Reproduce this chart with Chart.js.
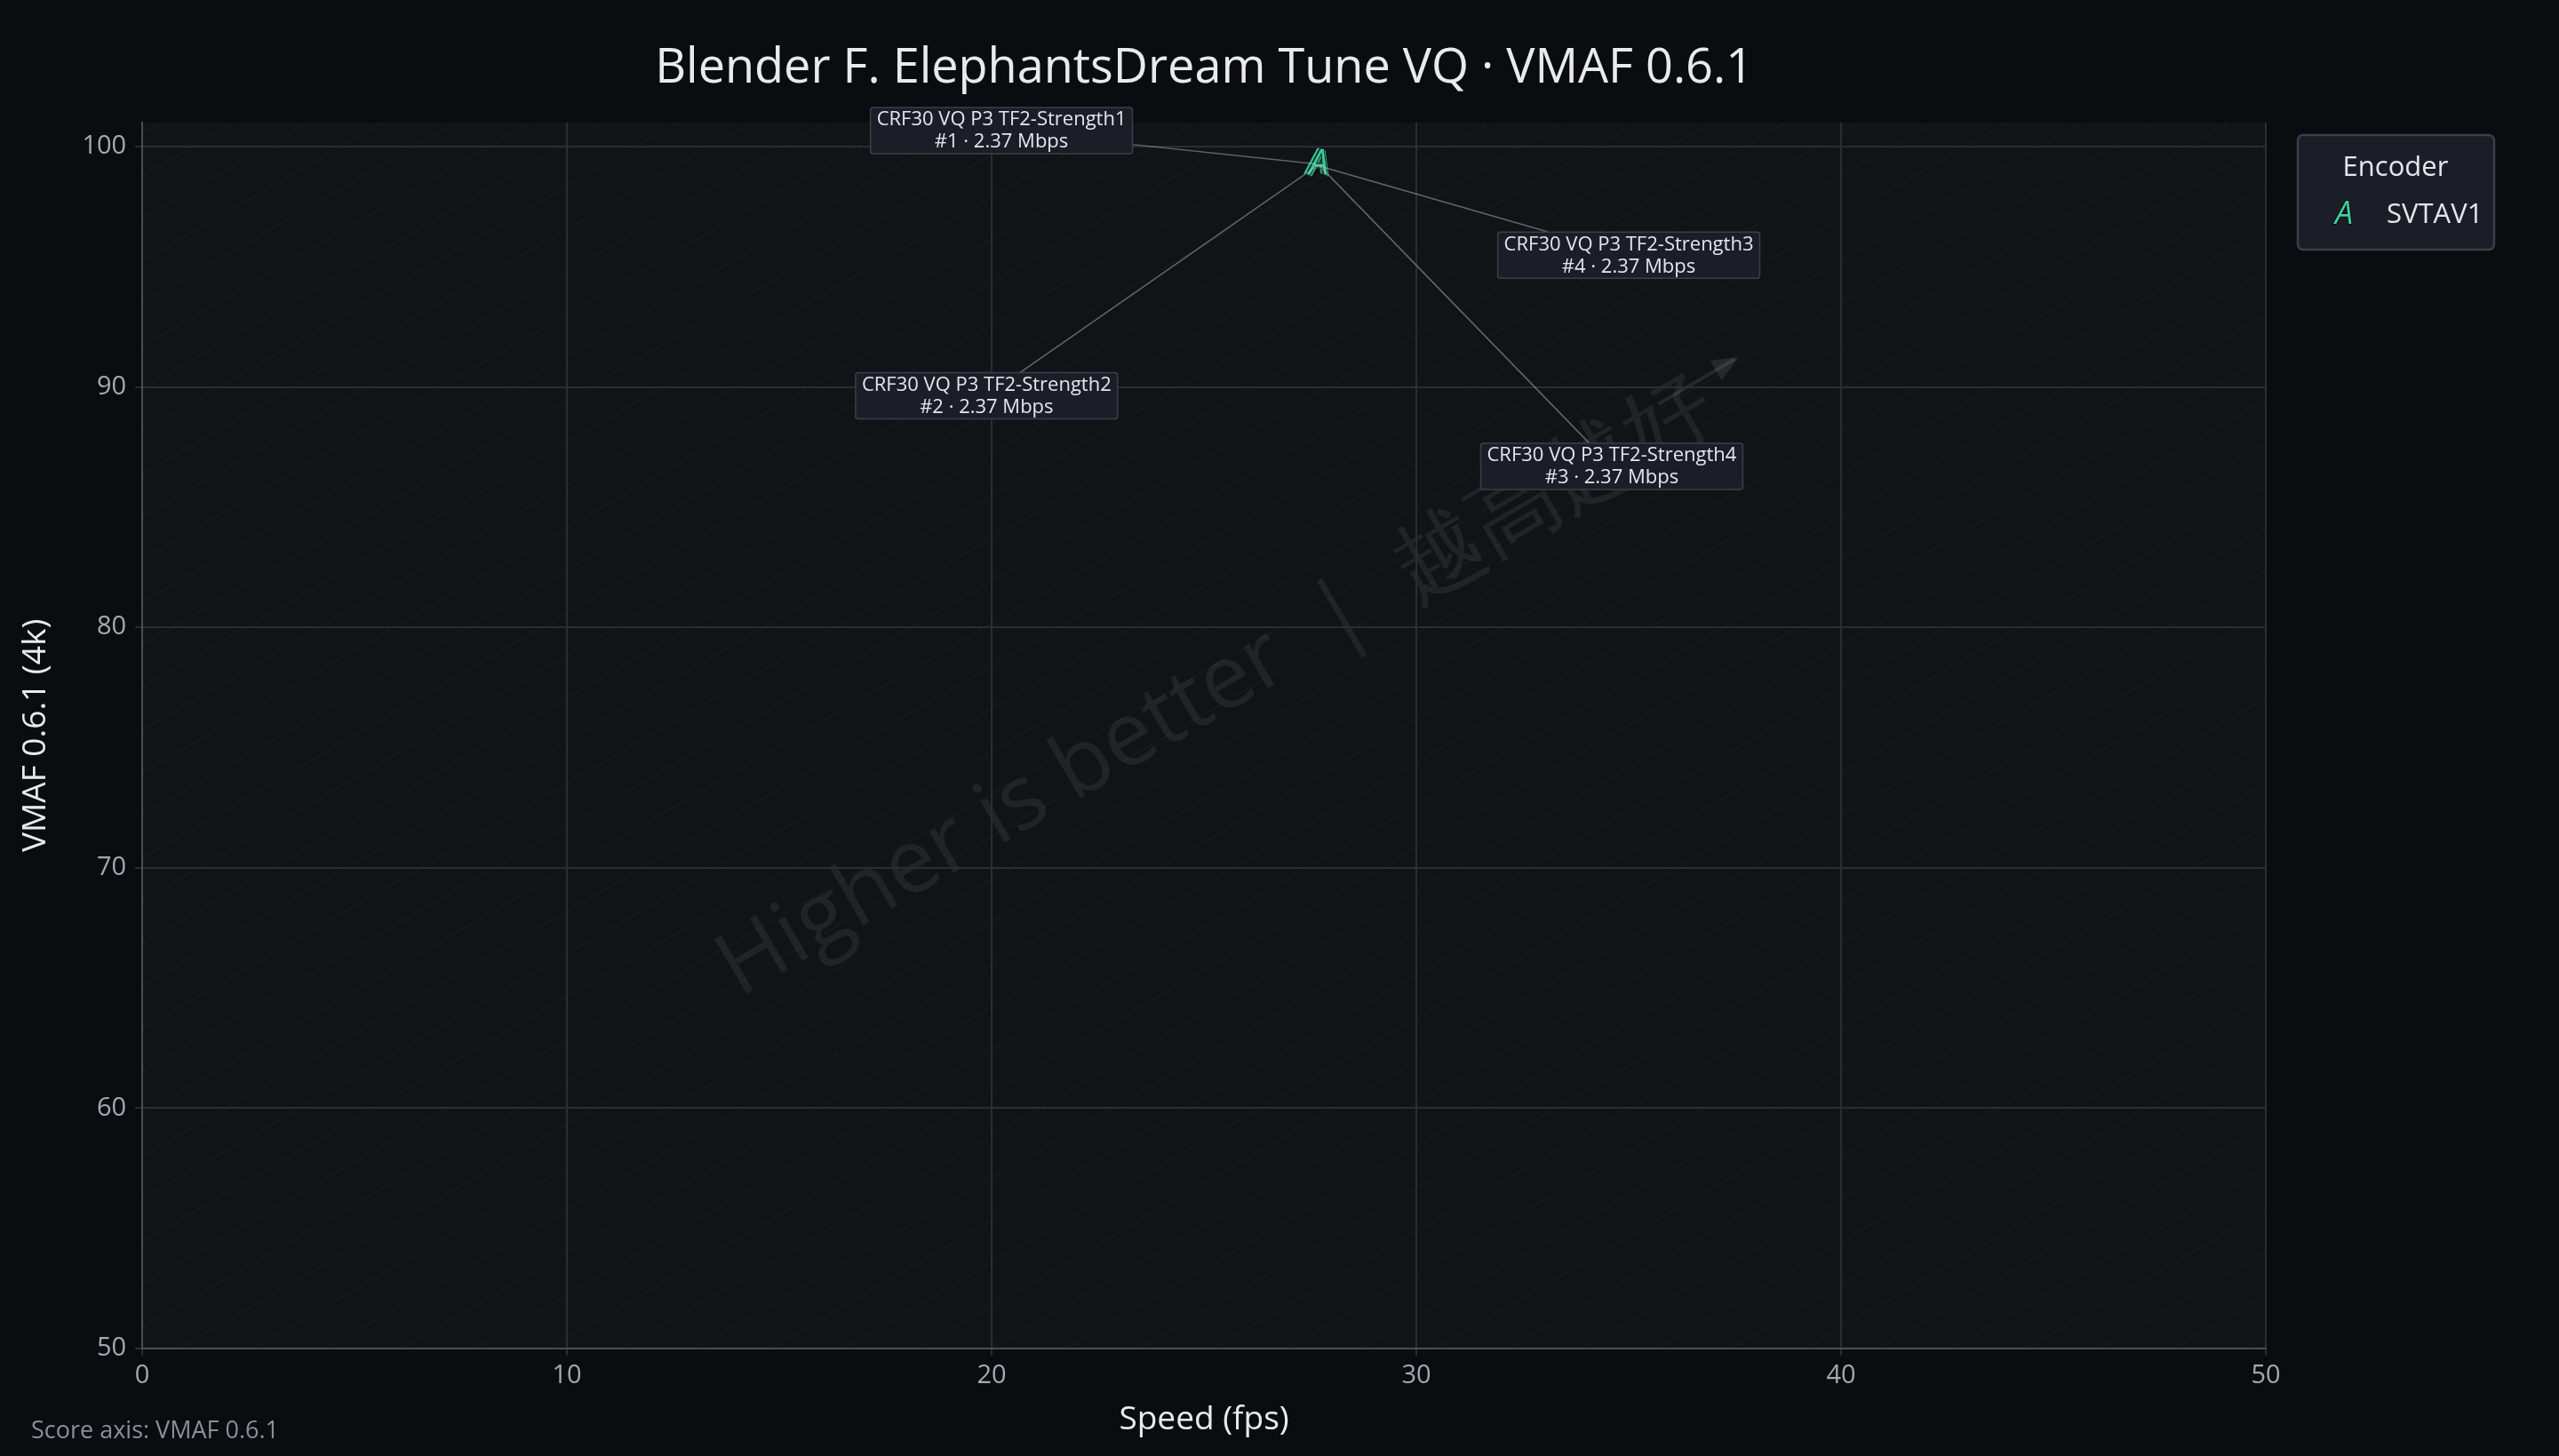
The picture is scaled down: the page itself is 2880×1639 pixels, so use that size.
<!DOCTYPE html>
<html><head><meta charset="utf-8">
<script src="https://cdn.jsdelivr.net/npm/chart.js@4"></script>
<style>html,body{margin:0;background:#0b0c10;}#w{width:2880px;height:1639px;}</style>
</head><body><div id="w"><canvas id="c"></canvas></div>
<script>
const FONT = "'Open Sans','Noto Sans',sans-serif";
const pointNames = ["CRF30 VQ P3 TF2-Strength1","CRF30 VQ P3 TF2-Strength2","CRF30 VQ P3 TF2-Strength3","CRF30 VQ P3 TF2-Strength4"];
const pointRanks = ["#1","#2","#4","#3"];
const bitrates = [2.37,2.37,2.37,2.37];
const speedFps = [27.62,27.68,27.74,27.70];
const vmafScores = [99.28,99.22,99.18,99.24];
const labelX = [20.23,19.88,35.0,34.6];
const labelY = [100.67,89.63,95.48,86.7];
const xTicks = [0,10,20,30,40,50];
const yTicks = [50,60,70,80,90,100];

function markerCanvas(size){
  const c=document.createElement('canvas');c.width=size;c.height=size;
  const g=c.getContext('2d');g.font="italic "+(size*0.9)+"px "+FONT;g.textAlign='center';g.textBaseline='middle';
  g.lineWidth=2;g.strokeStyle='#0b0c10';g.strokeText('A',size/2,size/2);
  g.fillStyle='#3ccf9a';g.fillText('A',size/2,size/2);return c;
}
const mk=markerCanvas(44), mkL=markerCanvas(40);

const deco={id:'deco',
 beforeDraw(ch){const {ctx,chartArea:a}=ch;ctx.save();
  ctx.fillStyle='#121317';ctx.fillRect(a.left,a.top,a.right-a.left,a.bottom-a.top);
  ctx.beginPath();ctx.rect(a.left,a.top,a.right-a.left,a.bottom-a.top);ctx.clip();
  ctx.strokeStyle='rgba(255,255,255,0.022)';ctx.lineWidth=2;
  const t=Math.tan(30*Math.PI/180);
  for(let s=-3000;s<3000;s+=48){ctx.beginPath();ctx.moveTo(a.left,a.bottom+s);ctx.lineTo(a.right,a.bottom+s-(a.right-a.left)*t);ctx.stroke();}
  ctx.translate(1370,775);ctx.rotate(-30.4*Math.PI/180);
  ctx.font="100px "+FONT;ctx.fillStyle='rgba(255,255,255,0.07)';ctx.textAlign='center';ctx.textBaseline='middle';
  ctx.fillText('Higher is better  |  越高越好',0,0);
  ctx.strokeStyle='rgba(255,255,255,0.09)';ctx.lineWidth=4;
  ctx.beginPath();ctx.moveTo(590,-25);ctx.lineTo(690,-25);ctx.stroke();
  ctx.beginPath();ctx.moveTo(665,-38);ctx.lineTo(695,-25);ctx.lineTo(665,-12);ctx.closePath();ctx.fillStyle='rgba(255,255,255,0.09)';ctx.fill();
  ctx.restore();},
 afterDatasetsDraw(ch){const {ctx}=ch;const xs=ch.scales.x,ys=ch.scales.y;ctx.save();
  ctx.font="22px "+FONT;ctx.textAlign='center';ctx.textBaseline='middle';
  for(let i=0;i<speedFps.length;i++){
   const px=xs.getPixelForValue(speedFps[i]),py=ys.getPixelForValue(vmafScores[i]);
   const lx=xs.getPixelForValue(labelX[i]),ly=ys.getPixelForValue(labelY[i]);
   const l1=pointNames[i],l2=pointRanks[i]+' · '+bitrates[i].toFixed(2)+' Mbps';
   const w=Math.max(ctx.measureText(l1).width,ctx.measureText(l2).width)+14,h=52;
   const dx=px-lx,dy=py-ly;const tt=Math.min((w/2)/Math.abs(dx||1e-9),(h/2)/Math.abs(dy||1e-9));
   const ex=lx+dx*tt,ey=ly+dy*tt;
   ctx.strokeStyle='rgba(200,200,210,0.45)';ctx.lineWidth=1.5;ctx.beginPath();ctx.moveTo(px,py);ctx.lineTo(ex,ey);ctx.stroke();
   ctx.fillStyle='#1b1e26';ctx.strokeStyle='#3a3f4b';ctx.lineWidth=1.5;
   ctx.beginPath();ctx.roundRect(lx-w/2,ly-h/2,w,h,3);ctx.fill();ctx.stroke();
   ctx.fillStyle='#e4e6ec';ctx.fillText(l1,lx,ly-12);ctx.fillText(l2,lx,ly+13);
  }
  ctx.restore();},
 afterDraw(ch){const {ctx}=ch;ctx.save();
  ctx.fillStyle='#1b1e26';ctx.strokeStyle='#3a3f4b';ctx.lineWidth=2.5;
  ctx.beginPath();ctx.roundRect(2586,152,221,129,6);ctx.fill();ctx.stroke();
  ctx.fillStyle='#e4e6ec';ctx.font="31px "+FONT;ctx.textAlign='center';ctx.textBaseline='middle';
  ctx.fillText('Encoder',2696,189);
  ctx.textAlign='left';ctx.fillText('SVTAV1',2686,242);
  ctx.drawImage(mkL,2618,222);
  ctx.fillStyle='#8a8f9a';ctx.font="27px "+FONT;ctx.textBaseline='alphabetic';ctx.fillText('Score axis: VMAF 0.6.1',35,1619);
  ctx.fillStyle='#e8eaf0';ctx.font="54px "+FONT;ctx.textAlign='center';ctx.textBaseline='middle';
  ctx.fillText('Blender F. ElephantsDream Tune VQ · VMAF 0.6.1',(ch.chartArea.left+ch.chartArea.right)/2,78);
  ctx.restore();}
};

new Chart(document.getElementById('c'),{type:'scatter',
 data:{datasets:[{label:'SVTAV1',data:speedFps.map((x,i)=>({x,y:vmafScores[i]})),pointStyle:mk,pointRadius:20}]},
 options:{responsive:true,maintainAspectRatio:false,animation:false,
  layout:{padding:{left:14,right:330,top:138,bottom:14}},
  plugins:{legend:{display:false},tooltip:{enabled:false},title:{display:false}},
  scales:{
   x:{type:'linear',min:0,max:50,afterBuildTicks:s=>{s.ticks=xTicks.map(v=>({value:v}));},
    grid:{color:'#2a2d35',lineWidth:2},border:{color:'#4a4e58',width:2},
    ticks:{color:'#a4a8b2',font:{family:FONT,size:29},padding:6},
    title:{display:true,text:'Speed (fps)',color:'#e8eaf0',font:{family:FONT,size:37},padding:{top:4}}},
   y:{type:'linear',min:50,max:101,afterBuildTicks:s=>{s.ticks=yTicks.map(v=>({value:v}));},
    grid:{color:'#2a2d35',lineWidth:2},border:{color:'#4a4e58',width:2},
    ticks:{color:'#a4a8b2',font:{family:FONT,size:29},padding:10},
    title:{display:true,text:'VMAF 0.6.1 (4k)',color:'#e8eaf0',font:{family:FONT,size:37},padding:{bottom:20}}}
  }},plugins:[deco]});
</script></body></html>
